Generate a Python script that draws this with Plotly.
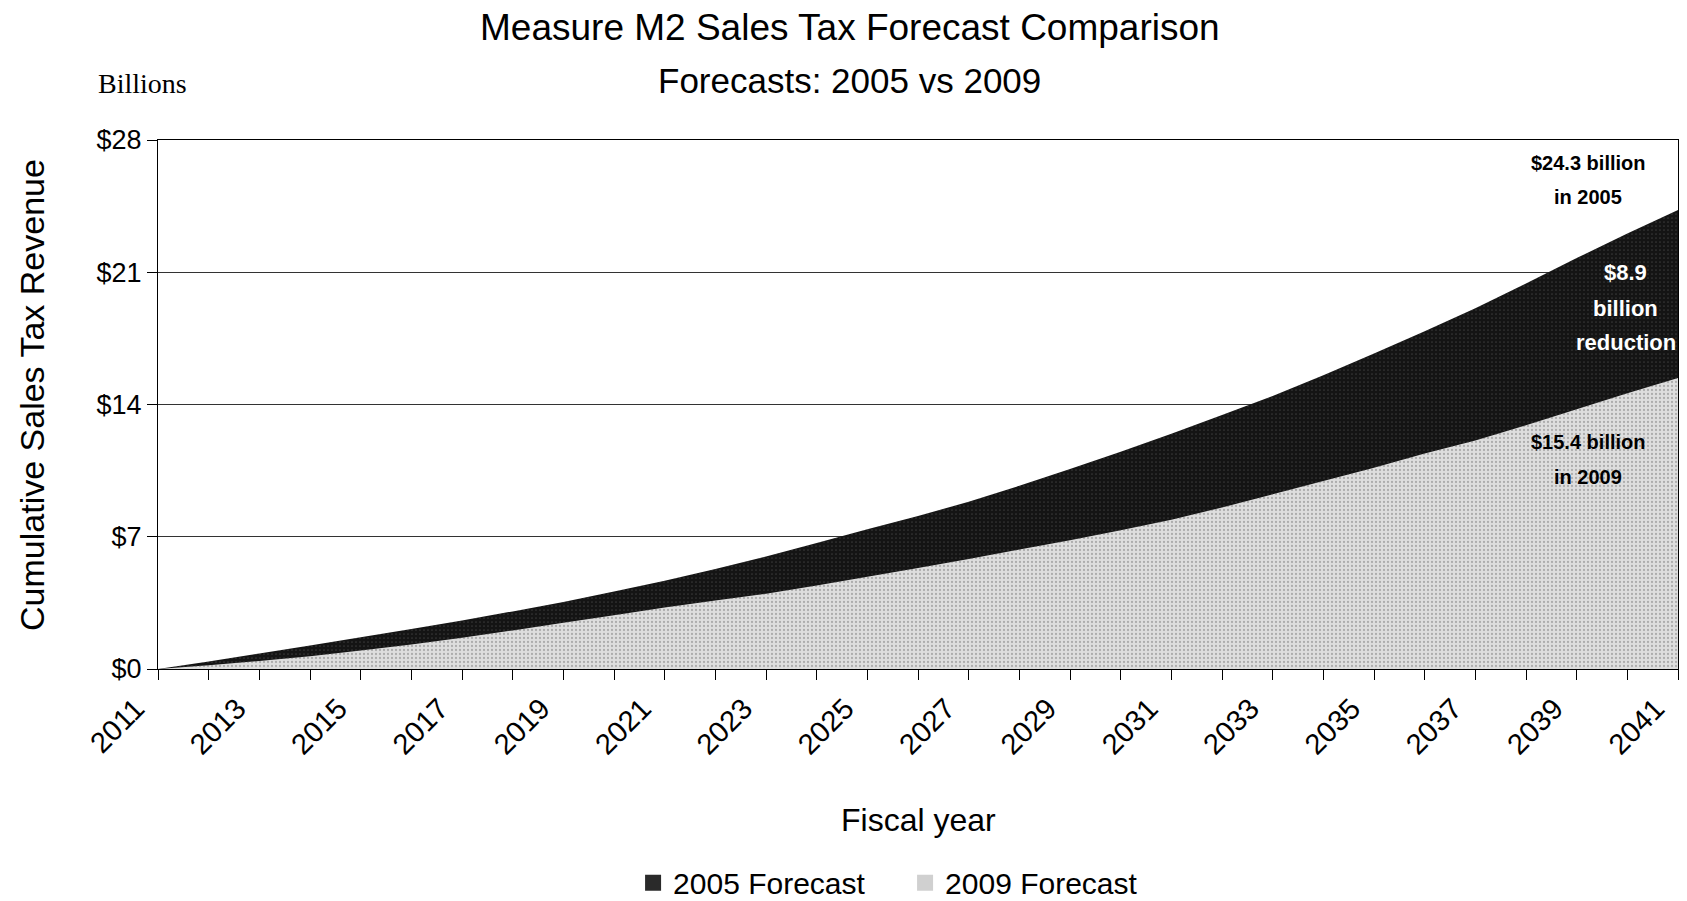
import plotly.graph_objects as go

years = list(range(2011, 2042))
forecast_2005 = [0, 0.40, 0.82, 1.25, 1.68, 2.12, 2.57, 3.05, 3.55, 4.10, 4.67,
                 5.29, 5.96, 6.67, 7.40, 8.10, 8.85, 9.70, 10.58, 11.50, 12.45,
                 13.45, 14.45, 15.55, 16.70, 17.88, 19.10, 20.40, 21.75, 23.05, 24.30]
forecast_2009 = [0, 0.20, 0.42, 0.68, 0.98, 1.30, 1.66, 2.04, 2.45, 2.85, 3.25,
                 3.62, 3.98, 4.42, 4.88, 5.35, 5.82, 6.32, 6.82, 7.34, 7.90,
                 8.55, 9.25, 9.95, 10.65, 11.40, 12.10, 12.90, 13.75, 14.60, 15.40]
y_ticks = [0, 7, 14, 21, 28]
y_tick_labels = ["$0", "$7", "$14", "$21", "$28"]
x_ticks = list(range(2011, 2042, 2))

SANS = "Liberation Sans, Arial, sans-serif"

fig = go.Figure()
fig.add_trace(go.Scatter(
    x=years, y=forecast_2005, name="2005 Forecast", mode="none", showlegend=False,
    fill="tozeroy", fillcolor="#1c1c1c",
    fillpattern=dict(shape=".", bgcolor="#141414", fgcolor="#5a5a5a", size=4, solidity=0.15),
    hoverinfo="x+y"))
fig.add_trace(go.Scatter(
    x=years, y=forecast_2009, name="2009 Forecast", mode="none", showlegend=False,
    fill="tozeroy", fillcolor="#d4d4d4",
    fillpattern=dict(shape=".", bgcolor="#dedede", fgcolor="#7a7a7a", size=4, solidity=0.25),
    hoverinfo="x+y"))
# legend entries (square swatches)
fig.add_trace(go.Scatter(x=[None], y=[None], mode="markers", name="2005 Forecast",
                         marker=dict(symbol="square", size=22, color="#2a2a2a")))
fig.add_trace(go.Scatter(x=[None], y=[None], mode="markers", name="2009 Forecast",
                         marker=dict(symbol="square", size=22, color="#d0d0d0")))

def A(text, x, y, font, xref="x", yref="y", **kw):
    return dict(text=text, x=x, y=y, xref=xref, yref=yref, showarrow=False,
                xanchor="center", yanchor="middle", font=font, **kw)

ann = []
ann.append(A("Measure M2 Sales Tax Forecast Comparison", 0.455, 1.2136,
             dict(family=SANS, size=37, color="black"), "paper", "paper"))
ann.append(A("Forecasts: 2005 vs 2009", 0.455, 1.112,
             dict(family=SANS, size=35, color="black"), "paper", "paper"))
ann.append(A("Billions", -0.0105, 1.106,
             dict(family="Liberation Serif, Times New Roman, serif", size=28, color="black"), "paper", "paper"))
ann.append(A("Cumulative Sales Tax Revenue", -0.0829, 0.518,
             dict(family=SANS, size=34, color="black"), "paper", "paper", textangle=-90))
ann.append(A("Fiscal year", 0.5, -0.285,
             dict(family=SANS, size=32, color="black"), "paper", "paper"))

bold = dict(family=SANS, size=20, color="black")
white_bold = dict(family=SANS, size=22, color="white")
for txt, yv in [("$24.3 billion", 26.8), ("in 2005", 24.96)]:
    ann.append(A(f"<b>{txt}</b>", 2039.22, yv, bold))
for txt, yv in [("$8.9", 21.0), ("billion", 19.1), ("reduction", 17.26)]:
    ann.append(A(f"<b>{txt}</b>", 2039.97, yv, white_bold))
for txt, yv in [("$15.4 billion", 12.03), ("in 2009", 10.18)]:
    ann.append(A(f"<b>{txt}</b>", 2039.22, yv, bold))

fig.update_layout(
    width=1679, height=893,
    margin=dict(l=150, r=9, t=132, b=232, autoexpand=False),
    paper_bgcolor="white", plot_bgcolor="white",
    showlegend=True,
    legend=dict(orientation="h", x=0.4915, xanchor="center", y=-0.404, yanchor="middle",
                font=dict(family=SANS, size=30, color="black"),
                itemwidth=30, entrywidth=227,
                bgcolor="rgba(0,0,0,0)"),
    annotations=ann,
    font=dict(family=SANS, color="black"),
)
fig.update_xaxes(
    range=[2011, 2041], tickvals=x_ticks, ticktext=[str(v) for v in x_ticks],
    tickangle=-45, tickfont=dict(family=SANS, size=29, color="black"),
    ticklabeloverflow="allow", ticklabelshift=-22,
    ticks="outside", ticklen=10, tickcolor="black",
    minor=dict(dtick=1, tick0=2011, ticks="outside", ticklen=10, tickcolor="black"),
    showline=True, linecolor="black", linewidth=1, mirror=True,
    showgrid=False, zeroline=False,
)
fig.update_yaxes(
    range=[0, 28], tickvals=y_ticks, ticktext=y_tick_labels,
    tickfont=dict(family=SANS, size=27, color="black"),
    ticks="outside", ticklen=10, tickcolor="black", ticklabelstandoff=0,
    showline=True, linecolor="black", linewidth=1, mirror=True,
    showgrid=True, gridcolor="#333333", gridwidth=1, zeroline=False,
)
fig.write_html("out.html")
